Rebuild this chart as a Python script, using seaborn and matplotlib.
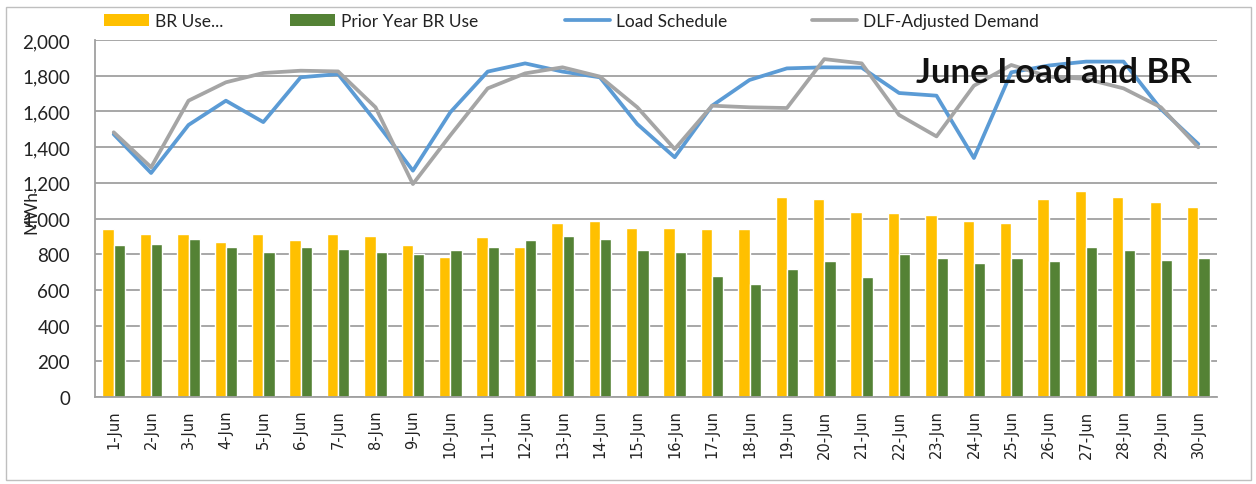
import numpy as np
import pandas as pd
import matplotlib
matplotlib.use("Agg")
import matplotlib.pyplot as plt
import matplotlib.ticker as mticker
from matplotlib.patches import Rectangle, Patch
from matplotlib.lines import Line2D
import seaborn as sns

days = [f"{i}-Jun" for i in range(1, 31)]
br_use = [940, 912, 912, 868, 912, 878, 912, 904, 850, 787,
          895, 840, 976, 984, 949, 949, 939, 939, 1119, 1111,
          1038, 1029, 1021, 984, 976, 1111, 1156, 1119, 1092, 1066]
prior_br_use = [850, 859, 885, 840, 814, 840, 831, 814, 803, 822,
                840, 878, 904, 885, 822, 814, 678, 631, 715, 760,
                670, 803, 777, 751, 777, 760, 840, 822, 769, 777]
load_schedule = [1472, 1255, 1524, 1660, 1540, 1791, 1809, 1545, 1268, 1595,
                 1823, 1869, 1823, 1791, 1529, 1343, 1632, 1776, 1841, 1847,
                 1845, 1703, 1688, 1339, 1819, 1857, 1879, 1879, 1613, 1417]
dlf_demand = [1483, 1287, 1660, 1763, 1815, 1828, 1824, 1623, 1193, 1466,
              1729, 1813, 1847, 1795, 1623, 1389, 1632, 1623, 1619, 1893,
              1869, 1580, 1460, 1744, 1860, 1795, 1782, 1729, 1623, 1399]
series_names = ["BR Use...", "Prior Year BR Use", "Load Schedule", "DLF-Adjusted Demand"]
y_ticks = [0, 200, 400, 600, 800, 1000, 1200, 1400, 1600, 1800, 2000]

YELLOW = "#FFC000"
GREEN = "#548235"
BLUE = "#5B9BD5"
GRAY = "#A5A5A5"
GRID = "#A0A0A0"

sns.set_style("white")
plt.rcParams["font.family"] = ["Lato", "DejaVu Sans"]

fig = plt.figure(figsize=(12.56, 4.85), dpi=100)
W, H = 1256, 485
ax = fig.add_axes([95 / W, 1 - 398 / H, (1217 - 95) / W, (398 - 41) / H])

bars = pd.DataFrame({
    "day": days * 2,
    "series": [series_names[0]] * len(days) + [series_names[1]] * len(days),
    "value": br_use + prior_br_use,
})
sns.barplot(data=bars, x="day", y="value", hue="series", order=days,
            hue_order=series_names[:2], palette=[YELLOW, GREEN],
            width=0.6, gap=0, saturation=1, legend=False, ax=ax, zorder=2)

pos = np.arange(len(days))
sns.lineplot(x=pos, y=load_schedule, color=BLUE, linewidth=2.7, ax=ax, zorder=3)
sns.lineplot(x=pos, y=dlf_demand, color=GRAY, linewidth=2.7, ax=ax, zorder=4)

ax.set_xlim(-0.5, len(days) - 0.5)
ax.set_ylim(0, 2000)
ax.set_yticks(y_ticks)
ax.yaxis.set_major_formatter(mticker.FuncFormatter(lambda v, p: f"{int(v):,}"))
ax.set_xticks(pos)
ax.set_xticklabels(days, rotation=90, fontsize=10.5, family="DejaVu Sans", color="#222222")
ax.set_xticks(np.arange(len(days) + 1) - 0.5, minor=True)
ax.tick_params(axis="x", which="major", length=0, pad=9)
ax.tick_params(axis="x", which="minor", length=5, color=GRID, width=1)
ax.tick_params(axis="y", which="major", length=5, color=GRID, width=1, pad=13,
               labelsize=13.5, labelcolor="#222222")
ax.yaxis.grid(True, color=GRID, linewidth=1.3, zorder=0)
ax.set_axisbelow(True)
for s in ["top", "right"]:
    ax.spines[s].set_visible(False)
for s in ["left", "bottom"]:
    ax.spines[s].set_color(GRID)
    ax.spines[s].set_linewidth(1.3)
ax.set_xlabel("")
ax.set_ylabel("")

fig.text(31 / W, 1 - 212 / H, "MWh", rotation=90, ha="center", va="center",
         fontsize=12.5, color="#222222")

fig.text(1192 / W, 1 - 73 / H, "June Load and BR", ha="right", va="center",
         fontsize=25, fontweight="bold", color="#111111")

# Legend entries placed along the top
handles = [Patch(facecolor=YELLOW, edgecolor="none"),
           Patch(facecolor=GREEN, edgecolor="none"),
           Line2D([], [], color=BLUE, linewidth=2.7),
           Line2D([], [], color=GRAY, linewidth=2.7)]
starts = [104, 290, 565, 812]
for h, lab, x0 in zip(handles, series_names, starts):
    lg = fig.legend([h], [lab], loc="center left", bbox_to_anchor=(x0 / W, 1 - 22 / H),
                    frameon=False, fontsize=12.5, handlelength=2.6, handleheight=0.7,
                    handletextpad=0.35, borderpad=0, borderaxespad=0)
    for t in lg.get_texts():
        t.set_color("#222222")

fig.patches.append(Rectangle((6 / W, 1 - 481 / H), (1251 - 6) / W, (481 - 8) / H,
                             transform=fig.transFigure, fill=False,
                             edgecolor="#BFBFBF", linewidth=1))

fig.savefig("out.png", dpi=100, facecolor="white")
